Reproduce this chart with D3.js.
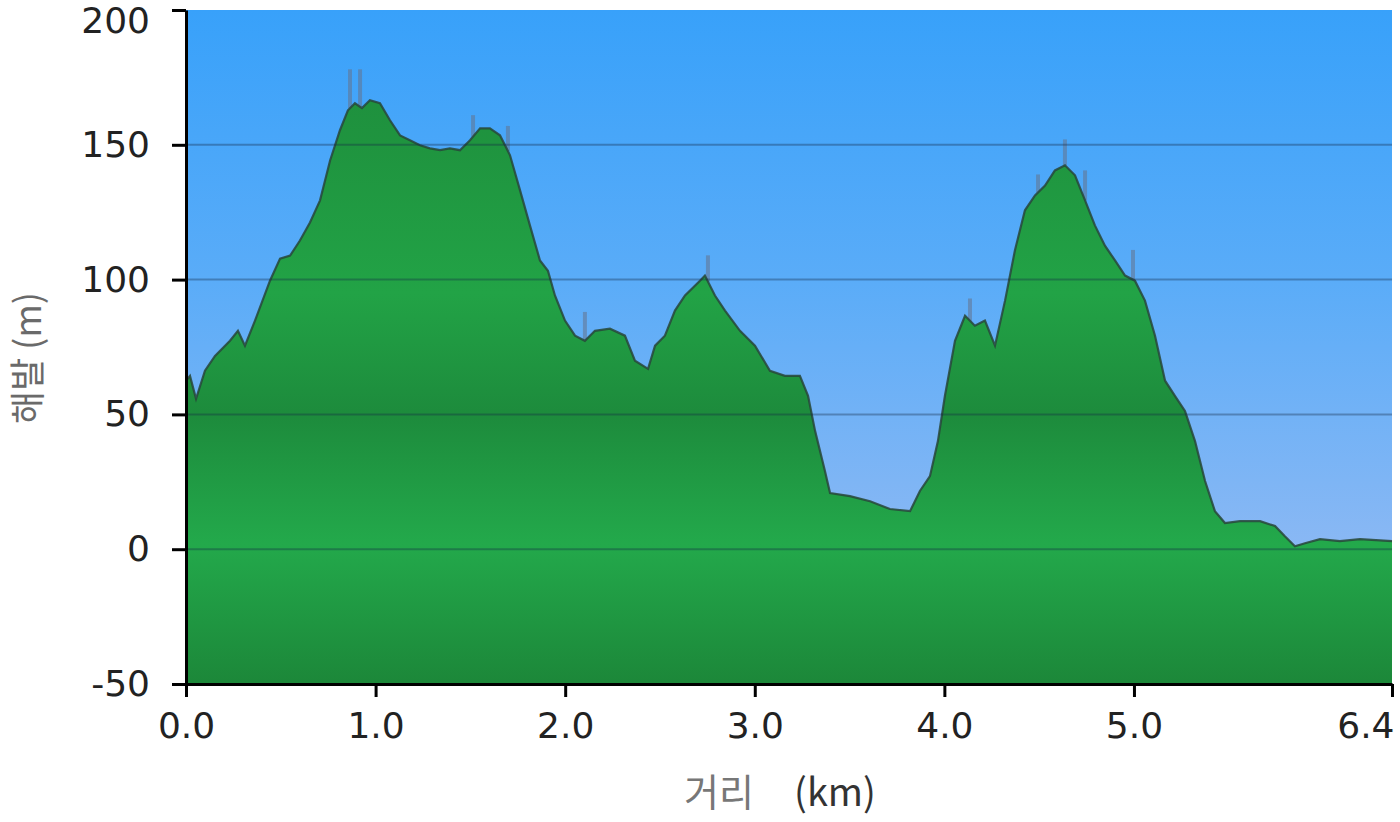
<!DOCTYPE html>
<html>
<head>
<meta charset="utf-8">
<script src="https://cdn.jsdelivr.net/npm/d3@7"></script>
<style>
  html, body { margin: 0; padding: 0; background: #fff; }
  svg { display: block; }
  .tick text { font-family: "DejaVu Sans", Verdana, sans-serif; font-size: 36px; fill: #222; }
  .axis-label { font-family: "Noto Sans CJK KR", "DejaVu Sans", sans-serif; font-size: 38px; fill: #6a6a6a; }
</style>
</head>
<body>
<div id="chart"></div>
<script>
(function () {

    // distance along the track (km)
    var DIST = [
        0.000, 0.021, 0.053, 0.100, 0.153, 0.232, 0.274, 0.311, 0.364, 0.443,
        0.496, 0.549, 0.601, 0.654, 0.707, 0.760, 0.812, 0.854, 0.891, 0.928,
        0.970, 1.023, 1.076, 1.129, 1.181, 1.234, 1.287, 1.340, 1.392, 1.445,
        1.498, 1.551, 1.603, 1.656, 1.709, 1.762, 1.814, 1.867, 1.909, 1.946,
        1.999, 2.052, 2.104, 2.157, 2.236, 2.315, 2.368, 2.437, 2.474, 2.526,
        2.579, 2.632, 2.711, 2.737, 2.790, 2.843, 2.922, 3.001, 3.080, 3.159,
        3.238, 3.281, 3.318, 3.370, 3.397, 3.502, 3.608, 3.713, 3.819, 3.871,
        3.924, 3.966, 4.003, 4.056, 4.109, 4.161, 4.214, 4.267, 4.320, 4.372,
        4.425, 4.478, 4.531, 4.583, 4.636, 4.689, 4.742, 4.794, 4.847, 4.900,
        4.953, 5.005, 5.058, 5.111, 5.164, 5.216, 5.269, 5.322, 5.375, 5.427,
        5.480, 5.559, 5.665, 5.744, 5.796, 5.849, 5.902, 5.981, 6.086, 6.192,
        6.361
    ];

    // elevation (m)
    var ELEV = [
        62.5, 64.3, 55.8, 66.2, 71.7, 77.3, 81.0, 75.5, 84.8, 99.6,
        107.8, 108.9, 114.5, 121.2, 129.4, 144.2, 155.4, 162.8, 165.4, 163.6,
        166.5, 165.4, 159.1, 153.5, 151.7, 149.8, 148.7, 148.0, 148.7, 148.0,
        151.7, 156.1, 156.1, 153.5, 146.1, 133.1, 120.1, 107.1, 103.3, 94.1,
        84.8, 79.2, 77.3, 81.0, 81.8, 79.2, 69.9, 66.9, 75.5, 79.2,
        88.5, 94.1, 99.6, 101.5, 94.1, 88.5, 81.0, 75.5, 66.2, 64.3,
        64.3, 56.9, 43.9, 29.0, 20.8, 19.7, 17.8, 14.9, 14.1, 21.6,
        27.1, 40.1, 56.9, 77.3, 86.6, 82.9, 84.8, 75.5, 92.2, 110.8,
        125.7, 131.2, 134.9, 140.5, 142.4, 138.7, 129.4, 120.1, 112.6, 107.1,
        101.5, 99.6, 92.2, 79.2, 62.5, 56.9, 51.3, 40.1, 25.3, 14.1,
        9.7, 10.4, 10.4, 8.6, 4.8, 1.1, 2.2, 3.7, 3.0, 3.7,
        3.0
    ];

    // raw GPS spikes above the smoothed profile
    var SPIKE_DIST = [0.865, 0.918, 1.514, 1.698, 2.104, 2.753, 4.135, 4.494, 4.636, 4.742, 4.995];
    var SPIKE_ELEV = [178.0, 178.0, 161.0, 157.0, 88.0, 109.0, 93.0, 139.0, 152.0, 140.5, 111.0];

    var X_TICKS = [0, 1, 2, 3, 4, 5, 6.361];
    var Y_TICKS = [-50, 0, 50, 100, 150, 200];
    var GRID    = [0, 50, 100, 150];

    var W = 1400, H = 822;
    var margin = { top: 10, right: 8, bottom: 138, left: 186 };
    var iW = W - margin.left - margin.right;
    var iH = H - margin.top - margin.bottom;

    var data = DIST.map(function (d, i) { return { d: d, e: ELEV[i] }; });

    var x = d3.scaleLinear().domain([0, 6.361]).range([0, iW]);
    var y = d3.scaleLinear().domain([-50, 200]).range([iH, 0]);

    var svg = d3.select("#chart").append("svg")
        .attr("width", W).attr("height", H);

    var defs = svg.append("defs");

    var sky = defs.append("linearGradient")
        .attr("id", "sky").attr("gradientUnits", "userSpaceOnUse")
        .attr("x1", 0).attr("x2", 0).attr("y1", 0).attr("y2", iH);
    [["0", "#38a1fa"], ["0.4", "#5aacf8"], ["0.8", "#8ab8f4"], ["1", "#9cbcf2"]]
        .forEach(function (s) { sky.append("stop").attr("offset", s[0]).attr("stop-color", s[1]); });

    var grass = defs.append("linearGradient")
        .attr("id", "grass").attr("gradientUnits", "userSpaceOnUse")
        .attr("x1", 0).attr("x2", 0).attr("y1", 0).attr("y2", iH);
    [[200, "#1e8a3c"], [150, "#1f943f"], [95, "#22a346"], [50, "#1d8b3c"], [2, "#23a94b"], [-50, "#1c8739"]]
        .forEach(function (s) {
            grass.append("stop").attr("offset", y(s[0]) / iH).attr("stop-color", s[1]);
        });

    var g = svg.append("g")
        .attr("transform", "translate(" + margin.left + "," + margin.top + ")");

    g.append("rect").attr("width", iW).attr("height", iH).attr("fill", "url(#sky)");

    var area = d3.area()
        .x(function (p) { return x(p.d); })
        .y0(iH)
        .y1(function (p) { return y(p.e); });

    var line = d3.line()
        .x(function (p) { return x(p.d); })
        .y(function (p) { return y(p.e); });

    // spikes (drawn from the profile up to the raw value)
    var bis = d3.bisector(function (p) { return p.d; }).left;
    function elevAt(d) {
        var i = Math.max(1, Math.min(data.length - 1, bis(data, d)));
        var a = data[i - 1], b = data[i];
        return a.e + (b.e - a.e) * (d - a.d) / (b.d - a.d);
    }
    g.append("g").selectAll("line")
        .data(SPIKE_DIST)
        .enter().append("line")
        .attr("x1", function (d) { return x(d); })
        .attr("x2", function (d) { return x(d); })
        .attr("y1", function (d) { return y(elevAt(d)); })
        .attr("y2", function (d, i) { return y(SPIKE_ELEV[i]); })
        .attr("stroke", "rgba(100,115,140,0.55)")
        .attr("stroke-width", 4);

    g.append("path").datum(data)
        .attr("d", area)
        .attr("fill", "url(#grass)");

    g.append("path").datum(data)
        .attr("d", line)
        .attr("fill", "none")
        .attr("stroke", "#28463a")
        .attr("stroke-opacity", 0.85)
        .attr("stroke-width", 2.2);

    // grid
    g.append("g").selectAll("line")
        .data(GRID)
        .enter().append("line")
        .attr("x1", 0).attr("x2", iW)
        .attr("y1", function (v) { return y(v); })
        .attr("y2", function (v) { return y(v); })
        .attr("stroke", "rgba(20,40,70,0.35)")
        .attr("stroke-width", 2);

    // axes
    var yAxis = g.append("g")
        .call(d3.axisLeft(y).tickValues(Y_TICKS).tickSize(14).tickSizeOuter(0).tickPadding(22)
            .tickFormat(function (v) { return String(v); }));

    var xAxis = g.append("g")
        .attr("transform", "translate(0," + iH + ")")
        .call(d3.axisBottom(x).tickValues(X_TICKS).tickSize(13).tickSizeOuter(0).tickPadding(15)
            .tickFormat(d3.format(".1f")));

    g.selectAll(".domain").attr("stroke", "#000").attr("stroke-width", 3);
    g.selectAll(".tick line").attr("stroke", "#000").attr("stroke-width", 3);
    xAxis.selectAll(".tick text").attr("dy", "0.71em");
    xAxis.selectAll(".tick").filter(function (d) { return d === 6.361; })
        .select("text").attr("text-anchor", "end").attr("dx", 2);
    yAxis.selectAll(".tick").filter(function (d) { return d === 200; })
        .select("text").attr("dy", "0.62em");

    // axis titles
    svg.append("text")
        .attr("class", "axis-label")
        .attr("transform", "translate(41,358) rotate(-90)")
        .attr("text-anchor", "middle")
        .style("font-size", "36px")
        .text("해발 (m)");

    var xt = svg.append("text")
        .attr("class", "axis-label")
        .attr("x", 780).attr("y", 806)
        .attr("text-anchor", "middle");
    xt.append("tspan").attr("fill", "#777").text("거리");
    xt.append("tspan").attr("fill", "#333").attr("dx", 40).text("(km)");

}());
</script>
</body>
</html>
